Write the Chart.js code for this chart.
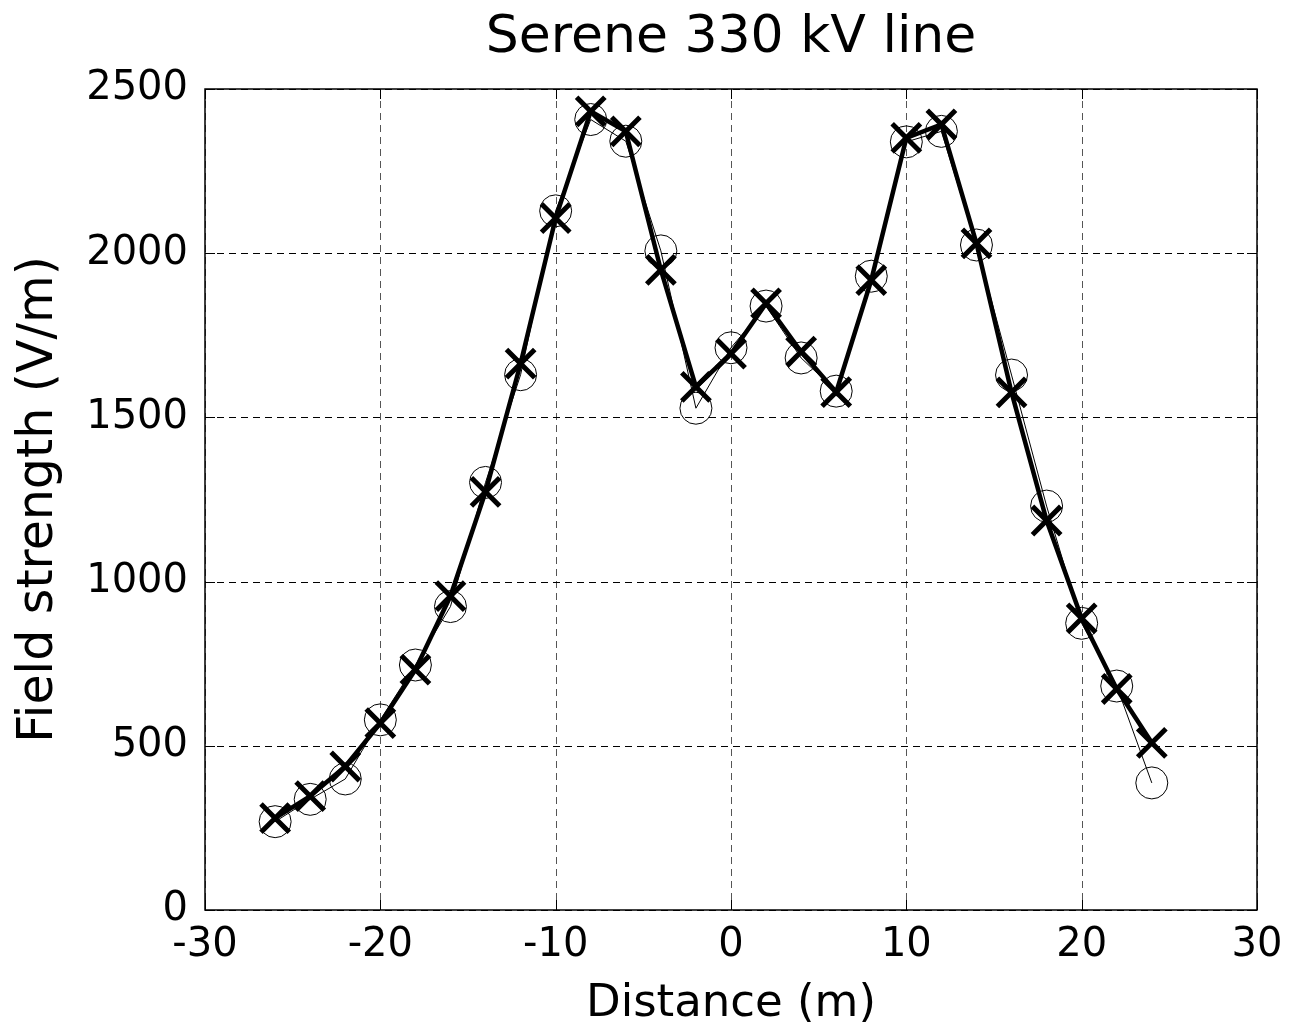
<!DOCTYPE html>
<html>
<head>
<meta charset="utf-8">
<title>Serene 330 kV line</title>
<script src="https://cdn.jsdelivr.net/npm/chart.js@4.4.1/dist/chart.umd.min.js"></script>
<style>
  html, body { margin: 0; padding: 0; background: #fff; }
  #wrap { width: 1290px; height: 1022px; position: relative; }
</style>
</head>
<body>
<div id="wrap"><canvas id="fieldChart"></canvas></div>
<script>
// Distance from line centre (m)
const distances = [-26, -24, -22, -20, -18, -16, -14, -12, -10, -8, -6, -4, -2, 0, 2, 4, 6, 8, 10, 12, 14, 16, 18, 20, 22, 24]

// Measured field strength (V/m) - circles
const measured = [269, 337, 399, 579, 746, 924, 1302, 1630, 2129, 2407, 2341, 2007, 1528, 1712, 1839, 1681, 1580, 1930, 2339, 2371, 2025, 1629, 1230, 873, 682, 387]

// Calculated field strength (V/m) - crosses
const calculated = [280, 347, 437, 569, 732, 956, 1273, 1664, 2107, 2432, 2371, 1949, 1593, 1694, 1847, 1700, 1577, 1918, 2351, 2392, 2030, 1576, 1186, 888, 673, 509]

// Axis ticks
const xTicks = [-30, -20, -10, 0, 10, 20, 30]
const yTicks = [0, 500, 1000, 1500, 2000, 2500]

const TITLE = "Serene 330 kV line"
const FONT = "'DejaVu Sans', 'Liberation Sans', Arial, sans-serif"

function toPoints(xs, ys) {
  return xs.map((x, i) => ({ x: x, y: ys[i] }))
}

// Dashed grid, box with small inward ticks and the title (matlab style)
const frameBox = {
  id: "frameBox",
  beforeDatasetsDraw(chart) {
    const { ctx, chartArea, scales } = chart
    const { left, right, top, bottom } = chartArea
    ctx.save()
    ctx.lineWidth = 1
    ctx.setLineDash([7, 5])
    // vertical grid lines
    ctx.strokeStyle = "#555"
    ctx.beginPath()
    xTicks.forEach((v) => {
      const px = Math.round(scales.x.getPixelForValue(v)) + 0.5
      ctx.moveTo(px, top)
      ctx.lineTo(px, bottom)
    })
    ctx.stroke()
    // horizontal grid lines
    ctx.strokeStyle = "#000"
    ctx.beginPath()
    yTicks.forEach((v) => {
      const py = Math.round(scales.y.getPixelForValue(v)) + 0.5
      ctx.moveTo(left, py)
      ctx.lineTo(right, py)
    })
    ctx.stroke()
    ctx.restore()
  },
  afterDraw(chart) {
    const { ctx, chartArea, scales } = chart
    const { left, right, top, bottom } = chartArea
    const tick = 10
    ctx.save()
    ctx.strokeStyle = "#000"
    ctx.lineWidth = 1.5
    ctx.strokeRect(left, top, right - left, bottom - top)
    ctx.lineWidth = 1
    ctx.beginPath()
    xTicks.forEach((v) => {
      const px = Math.round(scales.x.getPixelForValue(v)) + 0.5
      ctx.moveTo(px, bottom)
      ctx.lineTo(px, bottom - tick)
      ctx.moveTo(px, top)
      ctx.lineTo(px, top + tick)
    })
    yTicks.forEach((v) => {
      const py = Math.round(scales.y.getPixelForValue(v)) + 0.5
      ctx.moveTo(left, py)
      ctx.lineTo(left + tick, py)
      ctx.moveTo(right, py)
      ctx.lineTo(right - tick, py)
    })
    ctx.stroke()

    // title centred over the plot area
    ctx.fillStyle = "#000"
    ctx.font = "52px " + FONT
    ctx.textAlign = "center"
    ctx.textBaseline = "alphabetic"
    ctx.fillText(TITLE, (left + right) / 2, 52)
    ctx.restore()
  },
}

const ctx = document.getElementById("fieldChart")

new Chart(ctx, {
  type: "line",
  data: {
    datasets: [
      {
        label: "Calculated",
        data: toPoints(distances, calculated),
        borderColor: "#000",
        borderWidth: 4.5,
        pointStyle: "crossRot",
        pointRadius: 20,
        pointBorderWidth: 5,
        pointBorderColor: "#000",
        pointBackgroundColor: "#000",
        tension: 0,
        fill: false,
      },
      {
        label: "Measured",
        data: toPoints(distances, measured),
        borderColor: "#000",
        borderWidth: 1,
        pointStyle: "circle",
        pointRadius: 16,
        pointBorderWidth: 1,
        pointBorderColor: "#000",
        pointBackgroundColor: "rgba(0,0,0,0)",
        tension: 0,
        fill: false,
      },
    ],
  },
  options: {
    responsive: true,
    maintainAspectRatio: false,
    animation: false,
    layout: {
      padding: { left: 0, right: 33, top: 89, bottom: 0 },
    },
    plugins: {
      legend: { display: false },
      tooltip: { enabled: false },
      title: { display: false },
    },
    scales: {
      x: {
        type: "linear",
        min: -30,
        max: 30,
        afterBuildTicks: (scale) => {
          scale.ticks = xTicks.map((v) => ({ value: v }))
        },
        afterFit: (scale) => {
          scale.height = 112
          scale.paddingLeft = 0
          scale.paddingRight = 0
        },
        border: { display: false },
        grid: { display: false, drawTicks: false },
        ticks: {
          color: "#000",
          padding: 12,
          maxRotation: 0,
          font: { family: FONT, size: 40, lineHeight: 1.2 },
          callback: (v) => String(v),
        },
        title: {
          display: true,
          text: "Distance (m)",
          color: "#000",
          font: { family: FONT, size: 45, lineHeight: 0.8 },
          padding: 0,
        },
      },
      y: {
        type: "linear",
        min: 0,
        max: 2500,
        afterBuildTicks: (scale) => {
          scale.ticks = yTicks.map((v) => ({ value: v }))
        },
        afterFit: (scale) => {
          scale.width = 205
        },
        border: { display: false },
        grid: { display: false, drawTicks: false },
        ticks: {
          color: "#000",
          padding: 17,
          font: { family: FONT, size: 40, lineHeight: 1.2 },
          callback: (v) => String(v),
        },
        title: {
          display: true,
          text: "Field strength (V/m)",
          color: "#000",
          font: { family: FONT, size: 49, lineHeight: 1.2 },
          padding: { top: 10, bottom: 0 },
        },
      },
    },
  },
  plugins: [frameBox],
})
</script>
</body>
</html>
